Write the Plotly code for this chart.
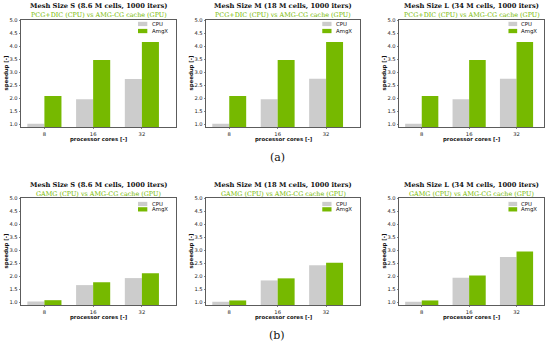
import plotly.graph_objects as go

cores = ["8", "16", "32"]
mesh_titles = ["Mesh Size S (8.6 M cells, 1000 iters)",
               "Mesh Size M (18 M cells, 1000 iters)",
               "Mesh Size L (34 M cells, 1000 iters)"]
row_subtitles = ["PCG+DIC (CPU) vs AMG-CG cache (GPU)",
                 "GAMG (CPU) vs AMG-CG cache (GPU)"]
series_names = ["CPU", "AmgX"]

# row 1: PCG+DIC baseline
cpu_pcg_S = [1.01, 1.95, 2.73]
gpu_pcg_S = [2.08, 3.46, 4.15]
cpu_pcg_M = [1.01, 1.95, 2.74]
gpu_pcg_M = [2.08, 3.46, 4.15]
cpu_pcg_L = [1.01, 1.95, 2.74]
gpu_pcg_L = [2.08, 3.46, 4.15]
# row 2: GAMG baseline
cpu_gamg_S = [1.02, 1.65, 1.92]
gpu_gamg_S = [1.07, 1.76, 2.11]
cpu_gamg_M = [1.01, 1.83, 2.41]
gpu_gamg_M = [1.06, 1.91, 2.51]
cpu_gamg_L = [1.01, 1.93, 2.73]
gpu_gamg_L = [1.06, 2.02, 2.94]

panels = [
    (cpu_pcg_S, gpu_pcg_S), (cpu_pcg_M, gpu_pcg_M), (cpu_pcg_L, gpu_pcg_L),
    (cpu_gamg_S, gpu_gamg_S), (cpu_gamg_M, gpu_gamg_M), (cpu_gamg_L, gpu_gamg_L),
]

W, H = 550, 346
GRAY = "#cccccc"
GREEN = "#76b900"
col_px = [(21, 176), (206, 360), (399, 544)]
row_px = [(20, 127), (198, 305)]
xranges = [[-0.48, 2.7], [-0.48, 2.7], [-0.48, 2.58]]

fig = go.Figure()
annotations = []
shapes = []
TICKFONT = dict(family="DejaVu Sans", size=5.2, color="#222")
LABFONT = dict(family="DejaVu Sans", size=5.4, color="#111")

for i, (cpu, gpu) in enumerate(panels):
    r, c = divmod(i, 3)
    n = i + 1
    xa = "x" if n == 1 else f"x{n}"
    ya = "y" if n == 1 else f"y{n}"
    xl = "xaxis" if n == 1 else f"xaxis{n}"
    yl = "yaxis" if n == 1 else f"yaxis{n}"
    x0, x1 = col_px[c]
    y0, y1 = row_px[r]
    xs = list(range(len(cores)))
    fig.add_trace(go.Bar(x=xs, y=cpu, name=series_names[0], marker_color=GRAY,
                         marker_line_width=0, xaxis=xa, yaxis=ya, showlegend=False,
                         offsetgroup="a"))
    fig.add_trace(go.Bar(x=xs, y=gpu, name=series_names[1], marker_color=GREEN,
                         marker_line_width=0, xaxis=xa, yaxis=ya, showlegend=False,
                         offsetgroup="b"))
    fig.layout[xl] = dict(domain=[x0 / W, x1 / W], anchor=ya, range=xranges[c],
                          tickvals=xs, ticktext=cores, showline=True, mirror=True,
                          linecolor="#333", linewidth=0.8, ticks="outside", ticklen=1.5,
                          tickwidth=0.6, tickcolor="#333", tickfont=TICKFONT,
                          showgrid=False, zeroline=False, fixedrange=True, automargin=False)
    fig.layout[yl] = dict(domain=[1 - y1 / H, 1 - y0 / H], anchor=xa, range=[0.885, 5.0],
                          tickvals=[1.0, 1.5, 2.0, 2.5, 3.0, 3.5, 4.0, 4.5, 5.0],
                          tickformat=".1f", showline=True, mirror=True,
                          linecolor="#333", linewidth=0.8, ticks="outside", ticklen=1.5,
                          tickwidth=0.6, tickcolor="#333", tickfont=TICKFONT,
                          showgrid=False, zeroline=False, fixedrange=True, automargin=False)
    xd = f"{xa} domain"
    yd = f"{ya} domain"
    sh1, sh2 = (14.3, 5.3) if r == 0 else (12.8, 4.3)
    annotations.append(dict(text=f"<b>{mesh_titles[c]}</b>", xref=xd, yref=yd, x=0.5, y=1,
                            yshift=sh1, showarrow=False, yanchor="middle", borderpad=0,
                            font=dict(family="DejaVu Serif", size=6.7, color="#111")))
    annotations.append(dict(text=row_subtitles[r], xref=xd, yref=yd, x=0.5, y=1,
                            yshift=sh2, showarrow=False, yanchor="middle", borderpad=0,
                            font=dict(family="DejaVu Serif", size=6.4, color=GREEN)))
    annotations.append(dict(text="<b>processor cores [-]</b>", xref=xd, yref=yd, x=0.5, y=0,
                            yshift=-12.5, showarrow=False, yanchor="middle", font=LABFONT))
    annotations.append(dict(text="<b>speedup [-]</b>", xref=xd, yref=yd, x=0, y=0.5,
                            xshift=-15, showarrow=False, textangle=-90, xanchor="center",
                            font=LABFONT))
    # legend
    ly = [0.963, 0.897] if r == 0 else [0.944, 0.894]
    for name, col, yy in zip(series_names, [GRAY, GREEN], ly):
        shapes.append(dict(type="rect", xref=xd, yref=yd, x0=0.755, x1=0.815,
                           y0=yy - 0.02, y1=yy + 0.02, fillcolor=col, line_width=0))
        annotations.append(dict(text=name, xref=xd, yref=yd, x=0.83, y=yy, showarrow=False,
                                xanchor="left", yanchor="middle", font=LABFONT))

annotations.append(dict(text="(a)", xref="paper", yref="paper", x=277 / W, y=1 - 158 / H,
                        xanchor="center", yanchor="middle", showarrow=False,
                        font=dict(family="DejaVu Serif", size=11, color="#111")))
annotations.append(dict(text="(b)", xref="paper", yref="paper", x=277 / W, y=1 - 335 / H,
                        xanchor="center", yanchor="middle", showarrow=False,
                        font=dict(family="DejaVu Serif", size=11, color="#111")))

fig.update_layout(width=W, height=H, margin=dict(l=0, r=0, t=0, b=0, autoexpand=False),
                  paper_bgcolor="white", plot_bgcolor="white", barmode="group",
                  bargap=0.3, bargroupgap=0, annotations=annotations, shapes=shapes,
                  showlegend=False)
fig.write_html("out.html", config={"displayModeBar": False, "staticPlot": True},
               post_script="document.body.style.margin='0';")
